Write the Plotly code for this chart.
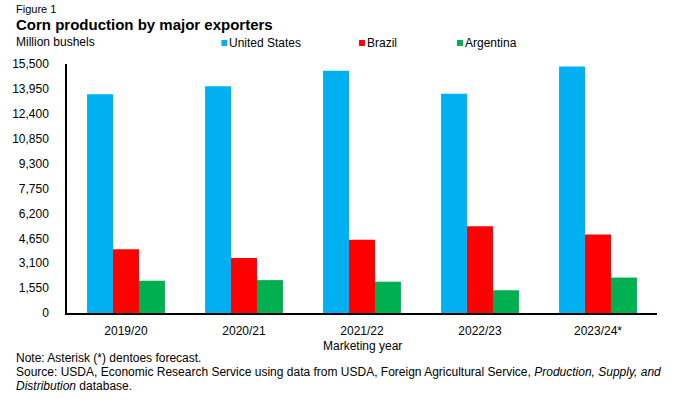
import plotly.graph_objects as go

years = ["2019/20", "2020/21", "2021/22", "2022/23", "2023/24*"]
united_states = [13620, 14111, 15074, 13651, 15342]
brazil = [3976, 3425, 4567, 5394, 4882]
argentina = [2008, 2047, 1949, 1417, 2205]
series_names = ["United States", "Brazil", "Argentina"]
colors = ["#00B0F0", "#FF0000", "#00B050"]
y_ticks = [0, 1550, 3100, 4650, 6200, 7750, 9300, 10850, 12400, 13950, 15500]

FONT = "Liberation Sans, Arial, sans-serif"
W, H = 678, 399
L, R, T, B = 61, 21, 64, 86
PW, PH = W - L - R, H - T - B


def px(x):
    return (x - L) / PW


def py(y):
    return (H - B - y) / PH


fig = go.Figure()
for name, vals, col in zip(series_names, [united_states, brazil, argentina], colors):
    fig.add_trace(go.Bar(x=years, y=vals, name=name, marker_color=col,
                         marker_line_width=0, showlegend=False))

annotations = [
    dict(text="Figure 1", x=px(7), y=py(9), font=dict(size=11)),
    dict(text="<b>Corn production by major exporters</b>", x=px(7), y=py(24), font=dict(size=15)),
    dict(text="Million bushels", x=px(7), y=py(42), font=dict(size=12)),
    dict(text="Marketing year", x=0.5, y=py(346), xanchor="center", font=dict(size=12)),
    dict(text="Note: Asterisk (*) dentoes forecast.", x=px(7), y=py(358), font=dict(size=12)),
    dict(text="Source: USDA, Economic Research Service using data from USDA, Foreign Agricultural Service, "
              "<i>Production, Supply, and</i>", x=px(7), y=py(372), font=dict(size=12)),
    dict(text="<i>Distribution</i> database.", x=px(7), y=py(386), font=dict(size=12)),
]
legend_x = [217, 356, 455]
shapes = []
for name, col, lx in zip(series_names, colors, legend_x):
    shapes.append(dict(type="rect", xref="paper", yref="paper",
                       x0=px(lx), x1=px(lx + 6), y0=py(46), y1=py(40),
                       fillcolor=col, line_width=0))
    annotations.append(dict(text=name, x=px(lx + 6), y=py(43), font=dict(size=12)))

for a in annotations:
    a.setdefault("xanchor", "left")
    a.update(xref="paper", yref="paper", yanchor="middle", showarrow=False)
    a["font"] = dict(family=FONT, color="#000000", **a["font"])

fig.update_layout(
    width=W, height=H,
    margin=dict(l=L, r=R, t=T, b=B, pad=0),
    paper_bgcolor="white", plot_bgcolor="white",
    barmode="group", bargap=0.34, bargroupgap=0,
    font=dict(family=FONT, size=12, color="#000000"),
    annotations=annotations, shapes=shapes,
    showlegend=False,
)
fig.update_xaxes(showline=True, linecolor="#000000", linewidth=1.5, ticks="",
                 showgrid=False, ticklabelstandoff=6, tickfont=dict(size=12))
fig.update_yaxes(range=[0, 15500], tickvals=y_ticks, tickformat=",", showline=True,
                 linecolor="#000000", linewidth=1.5, ticks="", showgrid=False,
                 zeroline=False, ticklabelstandoff=14, tickfont=dict(size=12))

fig.write_html("out.html", config={"displayModeBar": False},
               post_script="document.body.style.margin='0';document.body.style.overflow='hidden';")
